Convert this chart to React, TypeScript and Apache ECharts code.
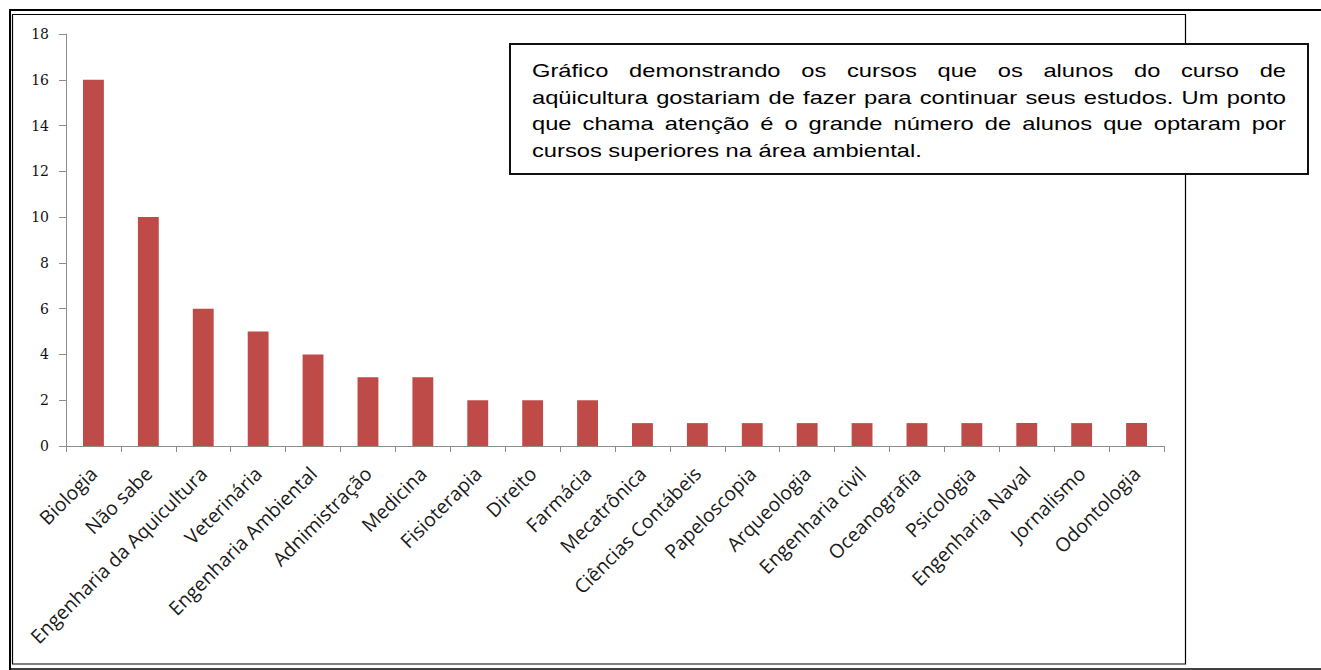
import React, { useEffect, useRef } from "react";
import * as echarts from "echarts";

const categories = [
  "Biologia",
  "Não sabe",
  "Engenharia da Aquicultura",
  "Veterinária",
  "Engenharia Ambiental",
  "Adnimistração",
  "Medicina",
  "Fisioterapia",
  "Direito",
  "Farmácia",
  "Mecatrônica",
  "Ciências Contábeis",
  "Papeloscopia",
  "Arqueologia",
  "Engenharia civil",
  "Oceanografia",
  "Psicologia",
  "Engenharia Naval",
  "Jornalismo",
  "Odontologia",
];
const values = [16, 10, 6, 5, 4, 3, 3, 2, 2, 2, 1, 1, 1, 1, 1, 1, 1, 1, 1, 1];
const yMin = 0;
const yMax = 18;
const yInterval = 2;
const noteLines = [
  "Gráfico demonstrando os cursos que os alunos do curso de",
  "aqüicultura gostariam de fazer para continuar seus estudos. Um ponto",
  "que chama atenção é o grande número de alunos que optaram por",
  "cursos superiores na área ambiental.",
];

function measure(text: string, font: string): number {
  const c = document.createElement("canvas");
  const ctx = c.getContext("2d");
  if (!ctx) return text.length * 10;
  ctx.font = font;
  return ctx.measureText(text).width;
}

export default function App() {
  const ref = useRef<HTMLDivElement>(null);
  useEffect(() => {
    if (!ref.current) return;
    const chart = echarts.init(ref.current, undefined, { renderer: "svg" });

    // note text layout (justified)
    const noteFamily = '"Liberation Sans", Arial, sans-serif';
    const noteSize = 19;
    const noteFont = `${noteSize}px ${noteFamily}`;
    const textLeft = 532;
    const textRight = 1286;
    const avail = textRight - textLeft;
    const w4 = measure(noteLines[3], noteFont);
    const w2 = measure(noteLines[1], noteFont);
    let sx = 390 / w4;
    if (w2 * sx > avail) sx = avail / w2;
    const lineYs = [71, 97.5, 124, 150.5];
    const baseStyle = {
      fontSize: noteSize,
      fontFamily: noteFamily,
      fill: "#000",
      align: "left",
      verticalAlign: "middle",
      textAlign: "left",
      textVerticalAlign: "middle",
    };
    const noteEls: any[] = [];
    noteLines.forEach((line, i) => {
      if (i === noteLines.length - 1) {
        noteEls.push({
          type: "text",
          x: textLeft,
          y: lineYs[i],
          scaleX: sx,
          style: { ...baseStyle, text: line },
        });
        return;
      }
      const words = line.split(" ");
      const ws = words.map((w) => measure(w, noteFont));
      const total = ws.reduce((a, b) => a + b, 0);
      const gap = (avail / sx - total) / (words.length - 1);
      let cum = 0;
      words.forEach((w, j) => {
        noteEls.push({
          type: "text",
          x: textLeft + cum * sx,
          y: lineYs[i],
          scaleX: sx,
          style: { ...baseStyle, text: w },
        });
        cum += ws[j] + gap;
      });
    });

    // x label font size fit
    const xFamily = '"Open Sans", "DejaVu Sans", sans-serif';
    const refW = measure("Engenharia da Aquicultura", `100px ${xFamily}`);
    const xFontSize = Math.max(11, Math.min(20, (100 * 240) / refW));

    const option: any = {
      animation: false,
      backgroundColor: "#ffffff",
      grid: {
        left: 66,
        right: 157,
        top: 34,
        bottom: 224,
        containLabel: false,
        outerBoundsMode: "none",
      },
      xAxis: {
        type: "category",
        data: categories,
        axisLine: { show: true, lineStyle: { color: "#8c8c8c", width: 1 } },
        axisTick: { show: true, length: 6, lineStyle: { color: "#8c8c8c" } },
        axisLabel: {
          interval: 0,
          rotate: 45,
          margin: 24,
          color: "#1a1a1a",
          fontFamily: xFamily,
          fontSize: xFontSize,
        },
        splitLine: { show: false },
      },
      yAxis: {
        type: "value",
        min: yMin,
        max: yMax,
        interval: yInterval,
        axisLine: { show: true, lineStyle: { color: "#8c8c8c", width: 1 } },
        axisTick: { show: true, length: 7, lineStyle: { color: "#8c8c8c" } },
        axisLabel: {
          margin: 17,
          color: "#111",
          fontFamily: '"DejaVu Serif", serif',
          fontSize: 14,
        },
        splitLine: { show: false },
      },
      series: [
        {
          type: "bar",
          data: values,
          barWidth: "38%",
          itemStyle: { color: "#BE4B48" },
        },
      ],
      graphic: [
        // outer frame
        { type: "line", shape: { x1: 9, y1: 10, x2: 1321, y2: 10 }, style: { stroke: "#000", lineWidth: 2 } },
        { type: "line", shape: { x1: 10, y1: 9, x2: 10, y2: 670 }, style: { stroke: "#000", lineWidth: 2 } },
        { type: "line", shape: { x1: 9, y1: 669, x2: 1321, y2: 669 }, style: { stroke: "#000", lineWidth: 1.5 } },
        // inner frame
        {
          type: "rect",
          shape: { x: 12.5, y: 14.5, width: 1173, height: 649.5 },
          style: { fill: "none", stroke: "#000", lineWidth: 1.2 },
        },
        // note box
        {
          type: "rect",
          shape: { x: 510, y: 44, width: 798, height: 130 },
          style: { fill: "#fff", stroke: "#111", lineWidth: 2 },
          z: 10,
        },
        ...noteEls.map((e) => ({ ...e, z: 11 })),
      ],
    };
    chart.setOption(option);
    return () => chart.dispose();
  }, []);
  return (
    <div
      ref={ref}
      style={{ position: "absolute", left: 0, top: 0, width: 1321, height: 670, background: "#fff" }}
    />
  );
}
